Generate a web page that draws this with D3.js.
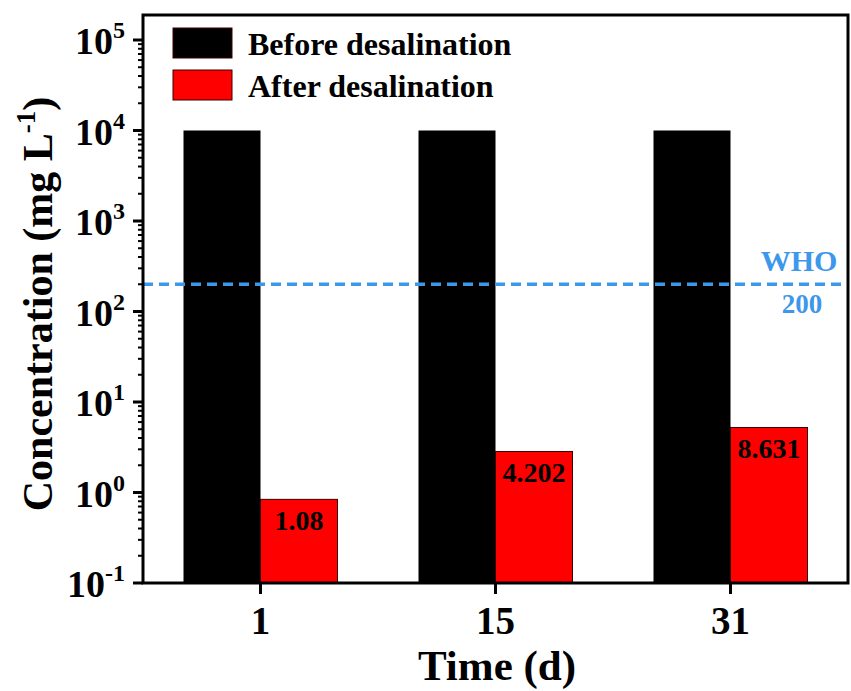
<!DOCTYPE html>
<html>
<head>
<meta charset="utf-8">
<script src="https://cdn.jsdelivr.net/npm/d3@7"></script>
<style>
  html, body { margin: 0; padding: 0; background: #fff; }
  svg { display: block; font-family: "Liberation Serif", "Times New Roman", serif; font-weight: bold; }
</style>
</head>
<body>
<svg id="chart" width="851" height="691"></svg>
<script>
// ---- data ----
const categories = ["1", "15", "31"];
const seriesNames = ["Before desalination", "After desalination"];
const beforeValues = [10000, 10000, 10000];
const afterValues = [0.84, 2.84, 5.23];
const afterLabels = ["1.08", "4.202", "8.631"];
const yTickExponents = [-1, 0, 1, 2, 3, 4, 5];
const whoValue = 200;
const whoLabels = ["WHO", "200"];

// ---- layout ----
const W = 851, H = 691;
const plot = { left: 143, right: 848, top: 15, bottom: 583 };
const svg = d3.select("#chart");

const x = d3.scalePoint().domain(categories).range([plot.left, plot.right]).padding(0.5);
const y = d3.scaleLog().domain([0.1, 1e5]).range([plot.bottom, 40]);
const barW = 77;

// bars: before
svg.append("g").selectAll("rect").data(categories).join("rect")
  .attr("x", d => x(d) - barW)
  .attr("width", barW)
  .attr("y", (d, i) => y(beforeValues[i]))
  .attr("height", (d, i) => plot.bottom - y(beforeValues[i]))
  .attr("fill", "#000");

// bars: after
svg.append("g").selectAll("rect").data(categories).join("rect")
  .attr("x", d => x(d))
  .attr("width", barW)
  .attr("y", (d, i) => y(afterValues[i]))
  .attr("height", (d, i) => plot.bottom - y(afterValues[i]))
  .attr("fill", "#ff0000")
  .attr("stroke", "#3a0000")
  .attr("stroke-width", 1);

// bar labels
svg.append("g").selectAll("text").data(categories).join("text")
  .attr("x", d => x(d) + barW / 2)
  .attr("y", (d, i) => y(afterValues[i]) + 31)
  .attr("text-anchor", "middle")
  .attr("font-size", 28)
  .attr("fill", "#000")
  .text((d, i) => afterLabels[i]);

// WHO line
const whoColor = "#3d97ea";
svg.append("line")
  .attr("x1", plot.left).attr("x2", plot.right)
  .attr("y1", y(whoValue)).attr("y2", y(whoValue))
  .attr("stroke", whoColor).attr("stroke-width", 3.5)
  .attr("stroke-dasharray", "10,6");
svg.append("text").attr("x", 799).attr("y", y(whoValue) - 13)
  .attr("text-anchor", "middle").attr("font-size", 30).attr("fill", whoColor).text(whoLabels[0]);
svg.append("text").attr("x", 802).attr("y", y(whoValue) + 29)
  .attr("text-anchor", "middle").attr("font-size", 27).attr("fill", whoColor).text(whoLabels[1]);

// frame
svg.append("rect")
  .attr("x", plot.left).attr("y", plot.top)
  .attr("width", plot.right - plot.left).attr("height", plot.bottom - plot.top)
  .attr("fill", "none").attr("stroke", "#000").attr("stroke-width", 3);

// y axis ticks (major + minor)
const minorVals = [];
for (let e = -1; e <= 5; e++) {
  for (let m = 2; m <= 9; m++) {
    const v = m * Math.pow(10, e);
    if (y(v) >= plot.top + 2) minorVals.push(v);
  }
}
const yAxisG = svg.append("g");
yAxisG.selectAll("line.minor").data(minorVals).join("line")
  .attr("class", "minor")
  .attr("x1", plot.left - 5).attr("x2", plot.left)
  .attr("y1", d => y(d)).attr("y2", d => y(d))
  .attr("stroke", "#000").attr("stroke-width", 2);
yAxisG.selectAll("line.major").data(yTickExponents).join("line")
  .attr("class", "major")
  .attr("x1", plot.left - 10).attr("x2", plot.left)
  .attr("y1", d => y(Math.pow(10, d))).attr("y2", d => y(Math.pow(10, d)))
  .attr("stroke", "#000").attr("stroke-width", 3);
const yLab = yAxisG.selectAll("text").data(yTickExponents).join("text")
  .attr("x", 125)
  .attr("y", d => y(Math.pow(10, d)) + 14)
  .attr("text-anchor", "end")
  .attr("font-size", 38)
  .attr("fill", "#000");
yLab.append("tspan").text("10");
yLab.append("tspan").attr("dy", -16).attr("font-size", 24).text(d => String(d));

// x axis ticks
const xAxisG = svg.append("g");
xAxisG.selectAll("line").data(categories).join("line")
  .attr("x1", d => x(d)).attr("x2", d => x(d))
  .attr("y1", plot.bottom).attr("y2", plot.bottom + 11)
  .attr("stroke", "#000").attr("stroke-width", 3);
xAxisG.selectAll("text").data(categories).join("text")
  .attr("x", d => x(d))
  .attr("y", 634)
  .attr("text-anchor", "middle")
  .attr("font-size", 39)
  .attr("fill", "#000")
  .text(d => d);

// axis titles
svg.append("text").attr("x", 497).attr("y", 680)
  .attr("text-anchor", "middle").attr("font-size", 43).attr("fill", "#000").text("Time (d)");
const yt = svg.append("text")
  .attr("transform", "translate(52,304) rotate(-90)")
  .attr("text-anchor", "middle").attr("font-size", 42).attr("fill", "#000");
yt.append("tspan").text("Concentration (mg L");
yt.append("tspan").attr("dy", -17).attr("font-size", 27).text("-1");
yt.append("tspan").attr("dy", 17).text(")");

// legend
const legend = svg.append("g");
const legColors = ["#000", "#ff0000"];
const legY = [28, 70];
legend.selectAll("rect").data(seriesNames).join("rect")
  .attr("x", 173).attr("y", (d, i) => legY[i])
  .attr("width", 59).attr("height", 30)
  .attr("fill", (d, i) => legColors[i])
  .attr("stroke", "#3a0000").attr("stroke-width", 1);
legend.selectAll("text").data(seriesNames).join("text")
  .attr("x", 248).attr("y", (d, i) => legY[i] + 27)
  .attr("font-size", 32).attr("fill", "#000")
  .text(d => d);
</script>
</body>
</html>
